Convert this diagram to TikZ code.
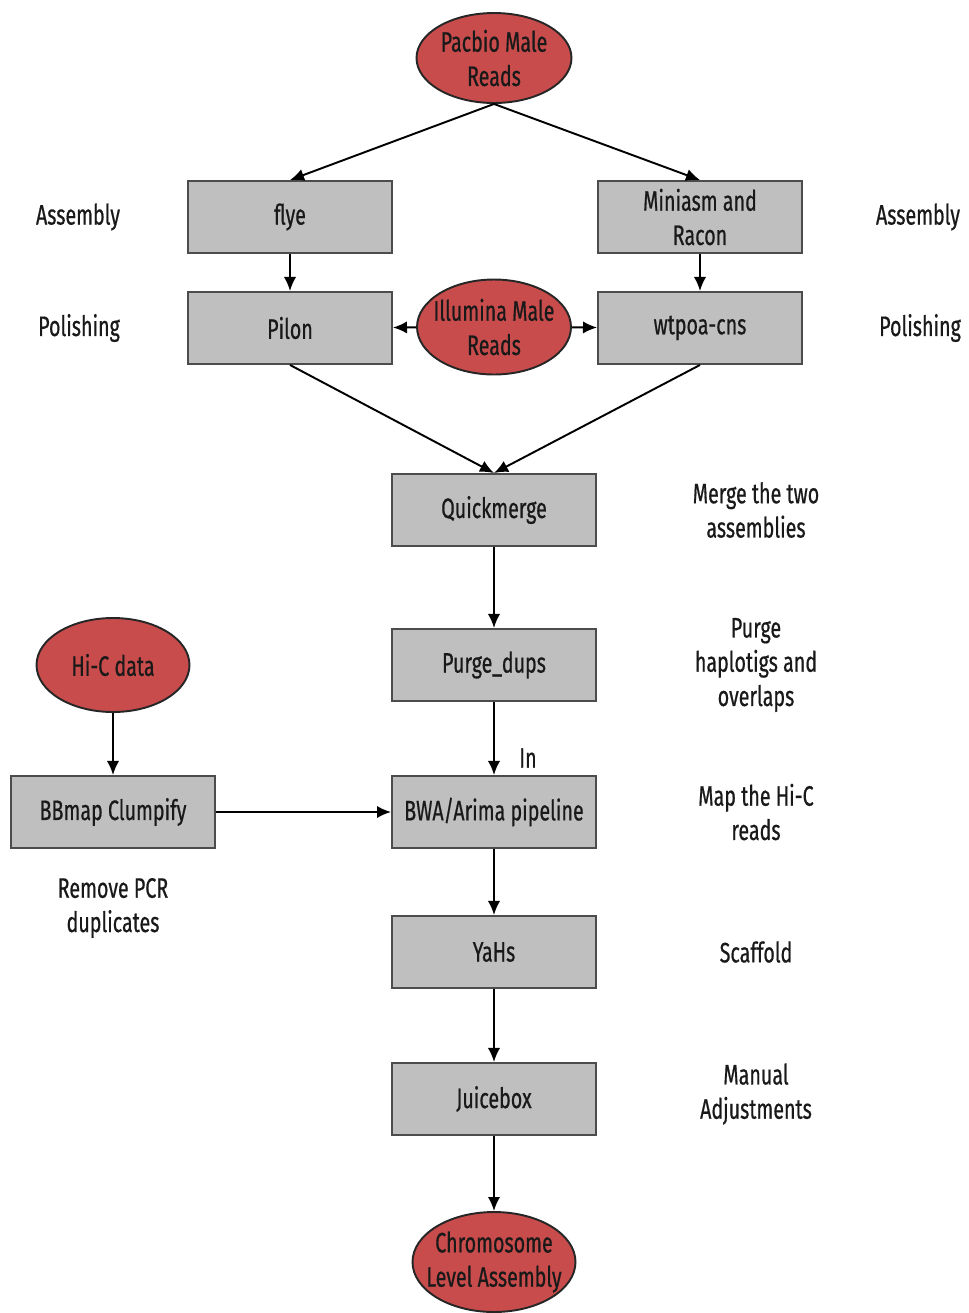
\documentclass[tikz,border=0pt]{standalone}
\usepackage{fontspec}
\setmainfont{Fira Sans}[FakeStretch=0.7, FakeBold=0.6]
\usepackage{tikz}
\usetikzlibrary{shapes.geometric, arrows.meta}
\definecolor{readred}{RGB}{201,76,76}
\definecolor{toolgray}{RGB}{191,191,191}

\begin{document}
\begin{tikzpicture}[x=0.02cm, y=-0.02cm,
	tool/.style={draw=black!70, fill=toolgray, minimum width=4.08cm, minimum height=1.44cm, align=center},
	reads/.style={ellipse, draw=black!85, fill=readred, inner xsep=-8pt, inner ysep=-6pt, align=center},
	note/.style={align=center},
	every node/.style={font=\fontsize{16}{19.5}\selectfont, text=black!90},
	every path/.style={line width=1.1pt},
	>={Latex[length=8pt, width=7pt]}]
	\useasboundingbox (0,0) rectangle (968,1313);
	% inputs
	\node[reads, minimum width=3.1cm, minimum height=1.8cm] (pacbio) at (494,58) {Pacbio Male\\Reads};
	\node[reads, minimum width=3.08cm, minimum height=1.9cm] (illumina) at (494,327) {Illumina Male\\Reads};
	\node[reads, minimum width=3.06cm, minimum height=1.88cm] (hic) at (113,665) {Hi-C data};
	\node[reads, minimum width=3.26cm, minimum height=2cm] (chrom) at (494,1262) {Chromosome\\Level Assembly};
	% tools
	\node[tool] (flye) at (290,217) {flye};
	\node[tool] (miniasm) at (700,217) {Miniasm and\\Racon};
	\node[tool] (pilon) at (290,328) {Pilon};
	\node[tool] (wtpoa) at (700,328) {wtpoa-cns};
	\node[tool] (quickmerge) at (494,510) {Quickmerge};
	\node[tool] (purge) at (494,665) {Purge\_dups};
	\node[tool] (bwa) at (494,812) {BWA/Arima pipeline};
	\node[tool] (bbmap) at (113,812) {BBmap Clumpify};
	\node[tool] (yahs) at (494,952) {YaHs};
	\node[tool] (juicebox) at (494,1099) {Juicebox};
	% step notes
	\node[note] (asmL) at (78,217) {Assembly};
	\node[note] (asmR) at (918,217) {Assembly};
	\node[note] (polL) at (79,328) {Polishing};
	\node[note] (polR) at (920,328) {Polishing};
	\node[note] (merge) at (756,510) {Merge the two\\assemblies};
	\node[note] (haplo) at (756,665) {Purge\\haplotigs and\\overlaps};
	\node[note] (map) at (756,812) {Map the Hi-C\\reads};
	\node[note] (pcr) at (113,908) {Remove PCR\\duplicates};
	\node[note] (scaffold) at (756,952) {Scaffold};
	\node[note] (manual) at (756,1094) {Manual\\Adjustments};
	\node[note] (in) at (528,758) {In};
	% arrows
	\draw[->] (pacbio.south) -- (flye.north);
	\draw[->] (pacbio.south) -- (miniasm.north);
	\draw[->] (flye) -- (pilon);
	\draw[->] (miniasm) -- (wtpoa);
	\draw[->] (illumina) -- (pilon);
	\draw[->] (illumina) -- (wtpoa);
	\draw[->] (pilon.south) -- (quickmerge.north);
	\draw[->] (wtpoa.south) -- (quickmerge.north);
	\draw[->] (quickmerge) -- (purge);
	\draw[->] (purge) -- (bwa);
	\draw[->] (hic) -- (bbmap);
	\draw[->] (bbmap) -- (bwa);
	\draw[->] (bwa) -- (yahs);
	\draw[->] (yahs) -- (juicebox);
	\draw[->] (juicebox) -- (chrom);
\end{tikzpicture}
\end{document}
